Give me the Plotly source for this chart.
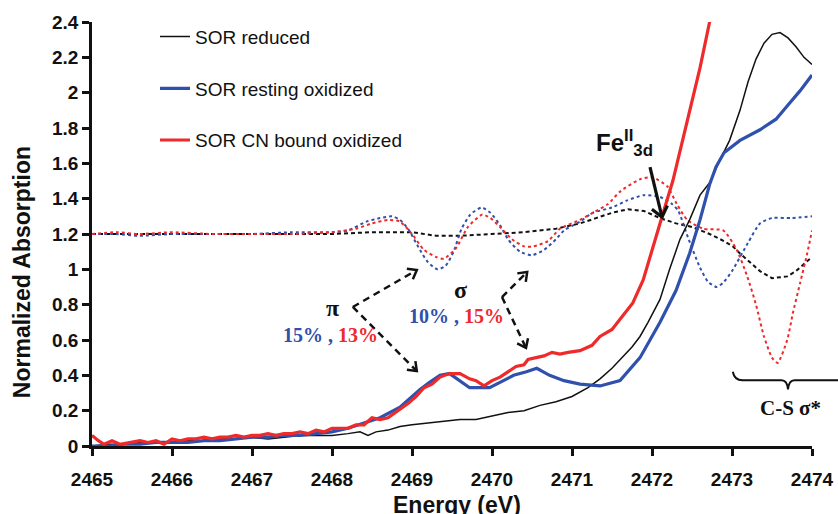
import math
import plotly.graph_objects as go

# ---------------- data ----------------
# Solid XAS spectra
E_black = [2465.0, 2465.2, 2465.4, 2465.6, 2465.8, 2466.0, 2466.2, 2466.4, 2466.6, 2466.8,
           2467.0, 2467.2, 2467.4, 2467.6, 2467.8, 2468.0, 2468.2, 2468.35, 2468.45, 2468.55,
           2468.7, 2468.85, 2469.0, 2469.2, 2469.4, 2469.6, 2469.8, 2470.0, 2470.2, 2470.4,
           2470.6, 2470.8, 2471.0, 2471.2, 2471.35, 2471.5, 2471.6, 2471.75, 2471.85, 2471.95,
           2472.1, 2472.22, 2472.35, 2472.47, 2472.6, 2472.72, 2472.85, 2472.97, 2473.1, 2473.2,
           2473.3, 2473.4, 2473.5, 2473.6, 2473.7, 2473.8, 2473.9, 2474.0]
A_black = [0.00, 0.01, 0.01, 0.02, 0.02, 0.02, 0.03, 0.03, 0.04, 0.04,
           0.05, 0.04, 0.05, 0.06, 0.06, 0.06, 0.07, 0.08, 0.06, 0.08,
           0.09, 0.11, 0.12, 0.13, 0.14, 0.15, 0.15, 0.17, 0.19, 0.20,
           0.23, 0.25, 0.28, 0.33, 0.38, 0.44, 0.49, 0.56, 0.62, 0.70,
           0.83, 1.00, 1.17, 1.28, 1.42, 1.49, 1.62, 1.73, 1.90, 2.06,
           2.19, 2.28, 2.33, 2.34, 2.31, 2.26, 2.20, 2.16]

E_blue = [2465.0, 2465.2, 2465.4, 2465.6, 2465.8, 2466.0, 2466.2, 2466.4, 2466.6, 2466.8,
          2467.0, 2467.2, 2467.4, 2467.6, 2467.8, 2468.0, 2468.2, 2468.4, 2468.6, 2468.85,
          2469.1, 2469.22, 2469.35, 2469.47, 2469.6, 2469.72, 2469.85, 2469.97, 2470.1, 2470.27,
          2470.43, 2470.56, 2470.72, 2470.9, 2471.1, 2471.35, 2471.6, 2471.85, 2472.1, 2472.3,
          2472.47, 2472.6, 2472.72, 2472.8, 2472.9, 2473.1, 2473.35, 2473.55, 2473.7, 2473.85,
          2474.0]
A_blue = [0.00, 0.00, 0.01, 0.01, 0.02, 0.02, 0.02, 0.03, 0.03, 0.04,
          0.05, 0.05, 0.06, 0.06, 0.07, 0.08, 0.10, 0.13, 0.16, 0.22,
          0.32, 0.36, 0.40, 0.41, 0.37, 0.33, 0.33, 0.33, 0.36, 0.40,
          0.42, 0.44, 0.40, 0.37, 0.35, 0.34, 0.37, 0.50, 0.70, 0.88,
          1.09, 1.28, 1.48, 1.58, 1.66, 1.73, 1.79, 1.85, 1.93, 2.01,
          2.10]

E_red = [2465.0, 2465.08, 2465.15, 2465.25, 2465.35, 2465.5, 2465.6, 2465.7, 2465.8, 2465.9,
         2466.0, 2466.1, 2466.2, 2466.3, 2466.4, 2466.5, 2466.6, 2466.7, 2466.8, 2466.9,
         2467.0, 2467.1, 2467.2, 2467.3, 2467.4, 2467.5, 2467.6, 2467.7, 2467.8, 2467.9,
         2468.0, 2468.1, 2468.2, 2468.3, 2468.4, 2468.5, 2468.6, 2468.7, 2468.85, 2468.95,
         2469.05, 2469.15, 2469.25, 2469.35, 2469.47, 2469.6, 2469.72, 2469.8, 2469.9, 2470.0,
         2470.1, 2470.2, 2470.3, 2470.4, 2470.45, 2470.55, 2470.65, 2470.75, 2470.85, 2470.95,
         2471.1, 2471.25, 2471.35, 2471.5, 2471.6, 2471.76, 2471.89, 2472.01, 2472.14, 2472.26,
         2472.44, 2472.6, 2472.72, 2472.8]
A_red = [0.06, 0.03, 0.01, 0.03, 0.01, 0.02, 0.03, 0.02, 0.03, 0.01,
         0.04, 0.03, 0.04, 0.04, 0.05, 0.04, 0.05, 0.05, 0.06, 0.05,
         0.06, 0.06, 0.07, 0.06, 0.07, 0.07, 0.08, 0.07, 0.09, 0.08,
         0.10, 0.10, 0.10, 0.12, 0.12, 0.16, 0.15, 0.16, 0.21, 0.24,
         0.28, 0.33, 0.35, 0.39, 0.41, 0.41, 0.38, 0.37, 0.34, 0.37,
         0.39, 0.42, 0.45, 0.46, 0.49, 0.50, 0.51, 0.53, 0.52, 0.53,
         0.54, 0.57, 0.62, 0.66, 0.72, 0.81, 0.94, 1.13, 1.32, 1.50,
         1.84, 2.14, 2.40, 2.56]

# Dotted second-derivative-like traces (offset around 1.2)
E_black_d = [2465.0, 2466.0, 2467.0, 2468.0, 2468.5, 2469.0, 2469.3, 2469.6, 2470.0, 2470.4,
             2470.8, 2471.1, 2471.3, 2471.5, 2471.7, 2471.9, 2472.1, 2472.3, 2472.5, 2472.72,
             2472.9, 2473.01, 2473.1, 2473.22, 2473.35, 2473.5, 2473.69, 2473.8, 2473.94, 2474.0]
A_black_d = [1.20, 1.20, 1.20, 1.20, 1.21, 1.21, 1.19, 1.19, 1.20, 1.21,
             1.23, 1.26, 1.29, 1.32, 1.34, 1.33, 1.29, 1.26, 1.24, 1.20,
             1.16, 1.13, 1.09, 1.04, 0.99, 0.95, 0.96, 0.99, 1.05, 1.07]

E_blue_d = [2465.0, 2465.3, 2465.6, 2466.0, 2466.5, 2467.0, 2467.5, 2468.0, 2468.2, 2468.43,
            2468.6, 2468.75, 2468.85, 2468.95, 2469.1, 2469.2, 2469.32, 2469.42, 2469.52, 2469.62,
            2469.73, 2469.87, 2469.98, 2470.1, 2470.2, 2470.35, 2470.5, 2470.65, 2470.8, 2470.9,
            2471.1, 2471.26, 2471.5, 2471.69, 2471.9, 2472.1, 2472.25, 2472.33, 2472.45, 2472.6,
            2472.7, 2472.81, 2472.9, 2473.0, 2473.2, 2473.35, 2473.5, 2473.75, 2474.0]
A_blue_d = [1.20, 1.20, 1.19, 1.20, 1.20, 1.20, 1.21, 1.21, 1.22, 1.27,
            1.29, 1.30, 1.28, 1.23, 1.11, 1.04, 1.00, 1.02, 1.10, 1.23,
            1.31, 1.35, 1.32, 1.25, 1.17, 1.10, 1.08, 1.11, 1.17, 1.22,
            1.27, 1.32, 1.35, 1.39, 1.42, 1.41, 1.37, 1.33, 1.18, 1.01,
            0.93, 0.90, 0.93, 0.99, 1.15, 1.26, 1.29, 1.29, 1.30]

E_red_d = [2465.0, 2465.3, 2465.6, 2466.0, 2466.5, 2467.0, 2467.5, 2468.0, 2468.3, 2468.5,
           2468.7, 2468.85, 2469.0, 2469.15, 2469.3, 2469.4, 2469.55, 2469.7, 2469.88, 2469.98,
           2470.1, 2470.25, 2470.4, 2470.52, 2470.7, 2470.85, 2471.1, 2471.26, 2471.45, 2471.6,
           2471.85, 2472.01, 2472.19, 2472.31, 2472.44, 2472.64, 2472.89, 2473.06, 2473.19, 2473.3,
           2473.4, 2473.5, 2473.57, 2473.69, 2473.76, 2473.85, 2473.94, 2474.0]
A_red_d = [1.20, 1.21, 1.20, 1.21, 1.20, 1.20, 1.20, 1.21, 1.23, 1.26,
           1.28, 1.27, 1.20, 1.11, 1.07, 1.06, 1.12, 1.24, 1.31, 1.29,
           1.24, 1.17, 1.13, 1.13, 1.16, 1.23, 1.28, 1.32, 1.37, 1.44,
           1.51, 1.52, 1.47, 1.37, 1.28, 1.23, 1.22, 1.11, 0.96, 0.80,
           0.62, 0.50, 0.47, 0.60, 0.75, 0.92, 1.09, 1.22]

names = ["SOR reduced", "SOR resting oxidized", "SOR CN bound oxidized"]
x_range = [2465, 2474]
y_range = [0, 2.4]
x_ticks = [2465, 2466, 2467, 2468, 2469, 2470, 2471, 2472, 2473, 2474]
y_ticks = [0, 0.2, 0.4, 0.6, 0.8, 1.0, 1.2, 1.4, 1.6, 1.8, 2.0, 2.2, 2.4]
y_tick_text = ["0", "0.2", "0.4", "0.6", "0.8", "1", "1.2", "1.4", "1.6", "1.8", "2", "2.2", "2.4"]

BLACK = "#111111"
BLUE = "#2f50ac"
RED = "#ee2a2a"
SANS = "Liberation Sans, Arial, sans-serif"
SERIF = "Liberation Serif, Times New Roman, serif"

W, H = 838, 514
M = dict(l=92, r=26, t=22, b=68)
PW, PH = W - M["l"] - M["r"], H - M["t"] - M["b"]

fig = go.Figure()

# dotted traces first
fig.add_trace(go.Scatter(x=E_black_d, y=A_black_d, mode="lines", showlegend=False,
                         line=dict(color=BLACK, width=2, dash="4px,3px")))
fig.add_trace(go.Scatter(x=E_blue_d, y=A_blue_d, mode="lines", showlegend=False,
                         line=dict(color=BLUE, width=2, dash="3px,3px", shape="spline", smoothing=0.6)))
fig.add_trace(go.Scatter(x=E_red_d, y=A_red_d, mode="lines", showlegend=False,
                         line=dict(color=RED, width=2, dash="3px,3px", shape="spline", smoothing=0.6)))

# solid spectra
fig.add_trace(go.Scatter(x=E_black, y=A_black, mode="lines", name=names[0], legendgroup="a",
                         line=dict(color=BLACK, width=1.5)))
fig.add_trace(go.Scatter(x=E_blue, y=A_blue, mode="lines", name=names[1], legendgroup="b",
                         line=dict(color=BLUE, width=3.2)))
fig.add_trace(go.Scatter(x=E_red, y=A_red, mode="lines", name=names[2], legendgroup="c",
                         line=dict(color=RED, width=3.2)))


def to_paper(e, v):
    return ((e - x_range[0]) / (x_range[1] - x_range[0]),
            (v - y_range[0]) / (y_range[1] - y_range[0]))


def chevron(tip, tail, length, half):
    """open arrow head (paper-coordinate path) at tip, pointing away from tail"""
    tx, ty = to_paper(*tip)
    ox, oy = to_paper(*tail)
    dx, dy = (tx - ox) * PW, (ty - oy) * PH
    n = math.hypot(dx, dy)
    ux, uy = dx / n, dy / n
    px_, py_ = -uy, ux
    w1 = (tx * PW - length * ux + half * px_, ty * PH - length * uy + half * py_)
    w2 = (tx * PW - length * ux - half * px_, ty * PH - length * uy - half * py_)
    f = lambda q: "%.5f,%.5f" % (q[0] / PW, q[1] / PH)
    return "M " + f(w1) + " L " + f((tx * PW, ty * PH)) + " L " + f(w2)


shapes = []
annotations = []

# dashed double arrows for pi and sigma
arrow_sets = [
    ((2468.26, 0.787), [(2469.06, 0.996), (2469.06, 0.424)]),
    ((2470.125, 0.843), [(2470.44, 0.985), (2470.425, 0.555)]),
]
for (ox, oy), tips in arrow_sets:
    for (tx, ty) in tips:
        shapes.append(dict(type="line", xref="x", yref="y", x0=ox, y0=oy, x1=tx, y1=ty,
                           line=dict(color=BLACK, width=2.5, dash="7px,5px")))
        shapes.append(dict(type="path", xref="paper", yref="paper",
                           path=chevron((tx, ty), (ox, oy), 8, 6),
                           line=dict(color=BLACK, width=2.5)))

# Fe(II) 3d arrow
fe_tail, fe_tip = (2471.975, 1.579), (2472.125, 1.296)
shapes.append(dict(type="line", xref="x", yref="y", x0=fe_tail[0], y0=fe_tail[1],
                   x1=fe_tip[0], y1=fe_tip[1], line=dict(color=BLACK, width=3.2)))
shapes.append(dict(type="path", xref="paper", yref="paper", path=chevron(fe_tip, fe_tail, 10, 8),
                   line=dict(color=BLACK, width=3.2)))
annotations.append(dict(x=2471.28, y=1.715, xref="x", yref="y", xanchor="left", yanchor="middle",
                        text="<b>Fe<sup>II</sup><sub>3d</sub></b>", showarrow=False,
                        font=dict(family=SANS, size=24, color=BLACK)))

# pi / sigma labels
annotations.append(dict(x=2468.0, y=0.78, xref="x", yref="y", text="<b>π</b>", showarrow=False,
                        font=dict(family=SERIF, size=24, color=BLACK)))
annotations.append(dict(x=2469.6, y=0.885, xref="x", yref="y", text="<b>σ</b>", showarrow=False,
                        font=dict(family=SERIF, size=24, color=BLACK)))
annotations.append(dict(x=2467.975, y=0.628, xref="x", yref="y", showarrow=False,
                        text=f"<b><span style='color:{BLUE}'>15%</span><span style='color:{BLUE}'> , </span>"
                             f"<span style='color:{RED}'>13%</span></b>",
                        font=dict(family=SERIF, size=20, color=BLACK)))
annotations.append(dict(x=2469.56, y=0.736, xref="x", yref="y", showarrow=False,
                        text=f"<b><span style='color:{BLUE}'>10%</span><span style='color:{BLUE}'> , </span>"
                             f"<span style='color:{RED}'>15%</span></b>",
                        font=dict(family=SERIF, size=20, color=BLACK)))

# C-S sigma* brace and label
bx0, btip, bx1 = 2473.01, 2473.7, 2474.45
by_top, by_h, by_tip = 0.42, 0.372, 0.32
p = lambda e, v: "%.5f,%.5f" % to_paper(e, v)
path = ("M " + p(bx0, by_top) + " Q " + p(bx0 + 0.02, by_h) + " " + p(bx0 + 0.12, by_h) +
        " L " + p(btip - 0.08, by_h) + " Q " + p(btip - 0.01, by_h) + " " + p(btip, by_tip) +
        " Q " + p(btip + 0.01, by_h) + " " + p(btip + 0.08, by_h) + " L " + p(bx1, by_h))
shapes.append(dict(type="path", xref="paper", yref="paper", path=path,
                   line=dict(color=BLACK, width=2)))
annotations.append(dict(x=2473.725, y=0.213, xref="x", yref="y", text="<b>C-S σ*</b>",
                        showarrow=False, font=dict(family=SERIF, size=21, color=BLACK)))

# axis titles
annotations.append(dict(x=(22 - M["l"]) / PW, y=0.41, xref="paper", yref="paper",
                        xanchor="center", yanchor="middle", textangle=-90, showarrow=False,
                        text="<b>Normalized Absorption</b>",
                        font=dict(family=SANS, size=23, color=BLACK)))
annotations.append(dict(x=0.507, y=-0.14, xref="paper", yref="paper",
                        xanchor="center", yanchor="middle", showarrow=False,
                        text="<b>Energy (eV)</b>",
                        font=dict(family=SANS, size=23, color=BLACK)))

fig.update_layout(
    width=W, height=H,
    margin=M,
    paper_bgcolor="white", plot_bgcolor="white",
    shapes=shapes, annotations=annotations,
    legend=dict(x=0.0875, y=1.01, xanchor="left", yanchor="top", bgcolor="rgba(0,0,0,0)",
                font=dict(family=SANS, size=19, color=BLACK), traceorder="grouped",
                tracegroupgap=24, itemwidth=30),
    xaxis=dict(range=x_range, tickvals=x_ticks, showgrid=False, zeroline=False, automargin=False,
               showline=True, linecolor=BLACK, linewidth=2.5, ticks="outside", ticklen=7,
               tickwidth=2.5, tickcolor=BLACK, ticklabelstandoff=7,
               tickfont=dict(family=SANS, size=19, color=BLACK, weight="bold")),
    yaxis=dict(range=y_range, tickvals=y_ticks, ticktext=y_tick_text, showgrid=False,
               zeroline=False, showline=True, linecolor=BLACK, linewidth=2.5, ticks="outside",
               ticklen=7, tickwidth=2.5, tickcolor=BLACK, automargin=False,
               tickfont=dict(family=SANS, size=19, color=BLACK, weight="bold")),
)

fig.write_html("out.html")
